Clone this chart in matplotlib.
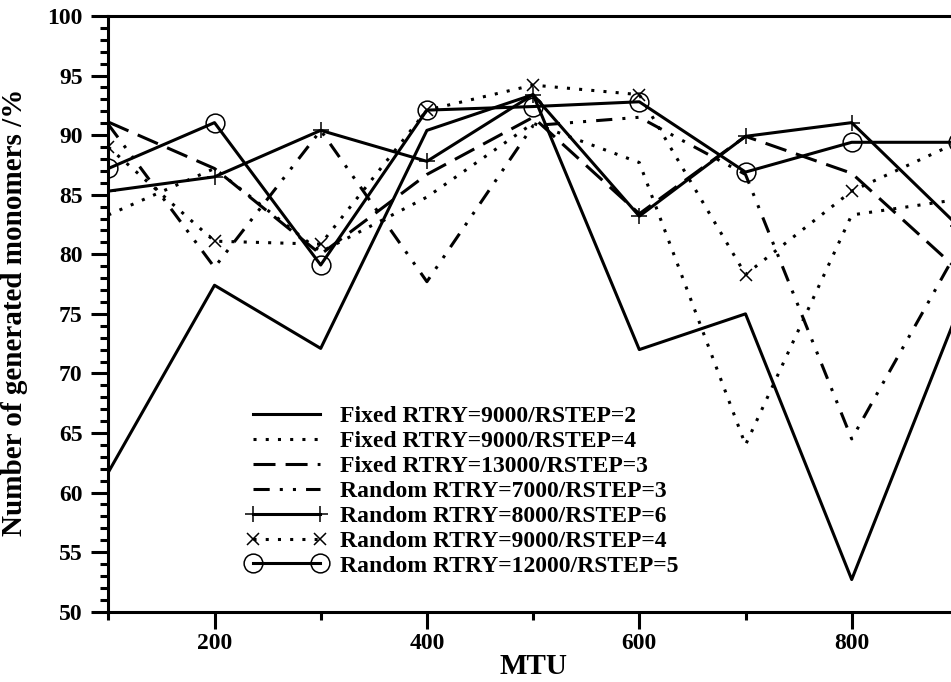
import matplotlib
matplotlib.use("Agg")
import matplotlib.pyplot as plt
from matplotlib.ticker import MultipleLocator
from matplotlib.lines import Line2D
from matplotlib.legend_handler import HandlerLine2D

plt.rcParams['font.family'] = ['Liberation Serif', 'DejaVu Serif']
plt.rcParams['font.weight'] = 'bold'

mtu = [100, 200, 300, 400, 500, 600, 700, 800, 900]

fixed_9000_2 = [61.7, 77.4, 72.1, 90.4, 93.4, 72.0, 75.0, 52.7, 75.2]
fixed_9000_4 = [83.3, 87.2, 80.2, 84.8, 91.0, 87.7, 64.0, 83.3, 84.6]
fixed_13000_3 = [91.1, 87.2, 80.0, 86.7, 91.5, 83.4, 89.9, 86.8, 78.7]
random_7000_3 = [90.9, 78.9, 90.4, 77.7, 90.8, 91.5, 86.7, 64.5, 80.4]
random_8000_6 = [85.3, 86.5, 90.4, 87.8, 93.4, 83.2, 89.9, 91.05, 82.4]
random_9000_4 = [89.0, 81.1, 80.85, 92.1, 94.2, 93.4, 78.3, 85.3, 89.4]
random_12000_5 = [87.2, 91.05, 79.1, 92.1, 92.4, 92.8, 86.9, 89.4, 89.4]

labels = [
    "Fixed RTRY=9000/RSTEP=2",
    "Fixed RTRY=9000/RSTEP=4",
    "Fixed RTRY=13000/RSTEP=3",
    "Random RTRY=7000/RSTEP=3",
    "Random RTRY=8000/RSTEP=6",
    "Random RTRY=9000/RSTEP=4",
    "Random RTRY=12000/RSTEP=5",
]

W, H = 951, 682
fig = plt.figure(figsize=(W / 100, H / 100), dpi=100)
ax_left, ax_right = 108.3, 957.9
ax_top, ax_bot = 16.0, 611.7
ax = fig.add_axes([ax_left / W, 1 - ax_bot / H, (ax_right - ax_left) / W, (ax_bot - ax_top) / H])

lw = 2.2
dotted = (0, (1, 3))
dashed = (0, (7.2, 3.3))
dashdotdot = (0, (5.3, 3.3, 1, 3.3, 1, 3.3))

ax.plot(mtu, fixed_9000_2, color='black', lw=lw, ls='-', label=labels[0])
ax.plot(mtu, fixed_9000_4, color='black', lw=lw, ls=dotted, label=labels[1])
ax.plot(mtu, fixed_13000_3, color='black', lw=lw, ls=dashed, label=labels[2])
ax.plot(mtu, random_7000_3, color='black', lw=lw, ls=dashdotdot, label=labels[3])
ax.plot(mtu, random_8000_6, color='black', lw=lw, ls='-', marker='+', ms=12, mew=1.1, label=labels[4])
ax.plot(mtu, random_9000_4, color='black', lw=lw, ls=dotted, marker='x', ms=9, mew=1.1, label=labels[5])
ax.plot(mtu, random_12000_5, color='black', lw=lw, ls='-', marker='o', ms=13.5, mew=1.1,
        mfc='none', label=labels[6])

ax.set_xlim(100, 900)
ax.set_ylim(50, 100)
ax.xaxis.set_major_locator(MultipleLocator(200))
ax.xaxis.set_minor_locator(MultipleLocator(100))
ax.yaxis.set_major_locator(MultipleLocator(5))
ax.yaxis.set_minor_locator(MultipleLocator(1))

for s in ax.spines.values():
    s.set_linewidth(2.2)

ax.tick_params(which='major', direction='out', length=12, width=2.2, labelsize=17)
ax.tick_params(axis='x', which='major', pad=3.5)
ax.tick_params(axis='y', which='major', pad=6.5)
ax.tick_params(which='minor', direction='out', length=6, width=2.2)
for lab in ax.get_xticklabels() + ax.get_yticklabels():
    lab.set_fontweight('bold')

ax.set_xlabel("MTU", fontsize=21, fontweight='bold')
ax.set_ylabel("Number of generated monomers /%", fontsize=21, fontweight='bold')
ax.xaxis.set_label_coords(0.5, -0.070)
ax.yaxis.set_label_coords(-0.094, 0.502)

leg = ax.legend(loc='upper left', bbox_to_anchor=(253 / W, 1 - 405.5 / H),
                bbox_transform=fig.transFigure, frameon=False,
                prop={'family': 'Liberation Serif', 'weight': 'bold', 'size': 17},
                numpoints=2, handlelength=2.84, handletextpad=0.85, labelspacing=0.145,
                borderpad=0, borderaxespad=0,
                handler_map={Line2D: HandlerLine2D(marker_pad=0)})

fig.savefig("out.png", dpi=100)
